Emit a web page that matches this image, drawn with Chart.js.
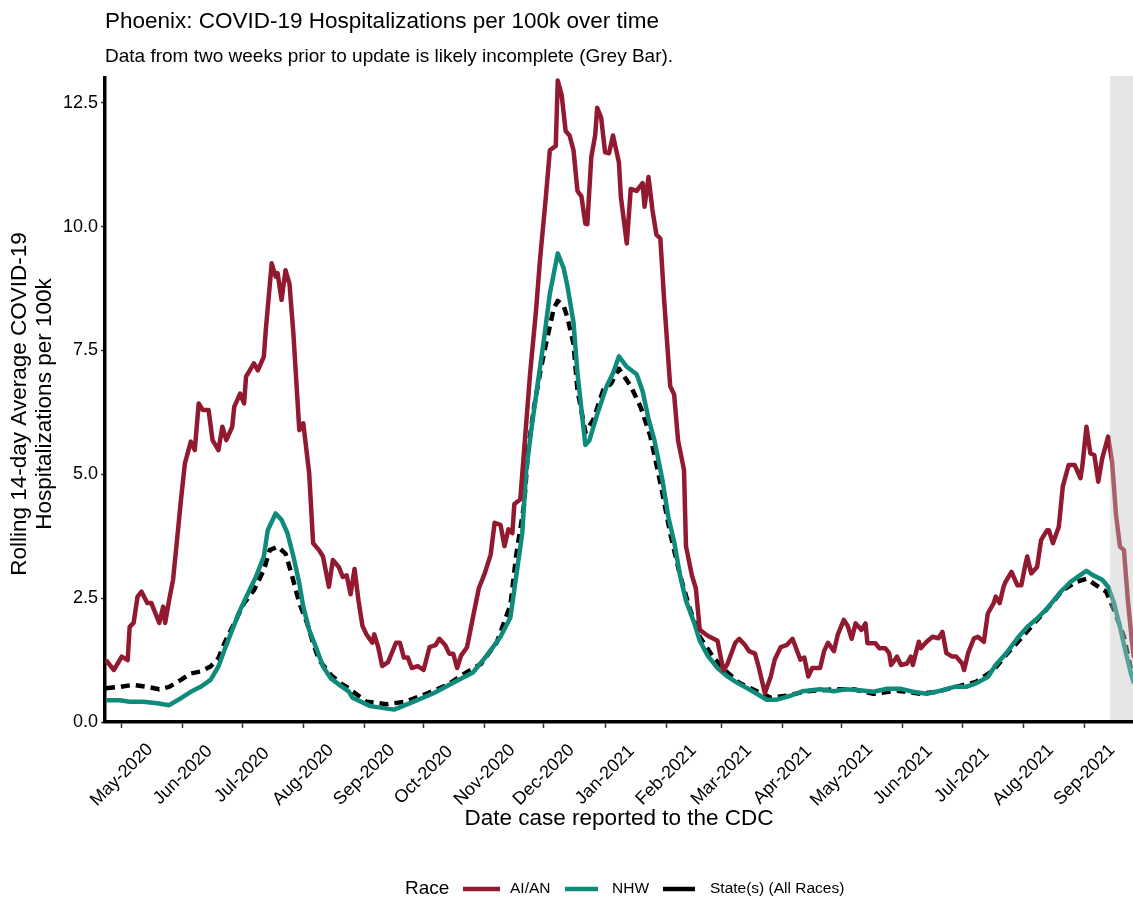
<!DOCTYPE html>
<html lang="en">
  <head>
    <meta charset="UTF-8" />
    <title>Phoenix: COVID-19 Hospitalizations per 100k over time</title>
    <script src="https://cdn.jsdelivr.net/npm/chart.js"></script>
    <style>
      body {
        margin: 0;
        background: #fff;
        font-family: "Liberation Sans", Arial, sans-serif;
      }
      #wrap {
        width: 1133px;
        height: 903px;
        position: relative;
      }
    </style>
  </head>
  <body>
    <div id="wrap"><canvas id="myChart"></canvas></div>
    <script>
      // x values are days counted from 1 May 2020
      const monthDays = [0, 31, 61, 92, 123, 153, 184, 214, 245, 276, 304, 335, 365, 396, 426, 457, 488];
      const monthLabels = [
        "May-2020", "Jun-2020", "Jul-2020", "Aug-2020", "Sep-2020", "Oct-2020",
        "Nov-2020", "Dec-2020", "Jan-2021", "Feb-2021", "Mar-2021", "Apr-2021",
        "May-2021", "Jun-2021", "Jul-2021", "Aug-2021", "Sep-2021",
      ];
      const yTicks = [0, 2.5, 5, 7.5, 10, 12.5];
      const greyStart = 501; // ~14 Sep 2021, incomplete data

      const aianDays = [
        -8, -4, 0, 3, 4, 6, 8, 10, 13, 15, 19, 21, 22, 24, 26, 28, 30, 32, 35, 37,
        39, 41, 44, 46, 49, 51, 53, 56, 57, 60, 62, 63, 67, 69, 72, 73, 76, 78, 79, 81,
        83, 85, 87, 90, 92, 95, 97, 100, 102, 105, 107, 110, 112, 114, 116, 118, 120, 122, 124, 127,
        128, 130, 132, 135, 139, 141, 143, 145, 147, 150, 153, 156, 159, 161, 164, 166, 168, 170, 172, 175,
        178, 181, 184, 187, 189, 192, 194, 196, 198, 199, 202, 204, 207, 210, 212, 215, 217, 220, 221, 223,
        225, 227, 229, 231, 233, 235, 236, 238, 240, 241, 243, 245, 247, 249, 252, 253, 256, 258, 261, 264,
        265, 267, 269, 271, 273, 275, 278, 280, 282, 285, 286, 289, 291, 293, 296, 298, 302, 303, 305, 307,
        311, 313, 316, 318, 321, 323, 326, 329, 331, 334, 337, 340, 342, 344, 346, 348, 350, 354, 356, 358,
        361, 363, 366, 368, 370, 372, 375, 377, 378, 382, 384, 387, 389, 390, 393, 395, 398, 400, 401, 404,
        405, 408, 411, 414, 416, 418, 421, 423, 426, 427, 429, 432, 434, 437, 439, 442, 443, 445, 447, 448,
        451, 454, 456, 458, 459, 461, 464, 466, 469, 470, 472, 475, 477, 480, 483, 486, 487, 489, 491, 493,
        495, 497, 500, 502, 504, 506, 508, 510, 512, 513,
      ];
      const aianVals = [
        1.25, 1.05, 1.32, 1.25, 1.92, 2.0, 2.53, 2.63, 2.4, 2.4, 2.0, 2.33, 2.0, 2.46, 2.87, 3.67, 4.48, 5.22, 5.66, 5.49,
        6.43, 6.3, 6.3, 5.69, 5.49, 5.96, 5.69, 5.96, 6.36, 6.63, 6.43, 6.97, 7.24, 7.1, 7.37, 7.91, 9.26, 8.99, 9.06, 8.52,
        9.12, 8.85, 7.84, 5.89, 6.03, 5.02, 3.61, 3.47, 3.34, 2.73, 3.27, 3.13, 2.93, 2.96, 2.58, 3.09, 2.45, 1.94, 1.77, 1.6,
        1.77, 1.51, 1.13, 1.21, 1.6, 1.6, 1.3, 1.3, 1.09, 1.13, 1.05, 1.51, 1.55, 1.68, 1.55, 1.38, 1.38, 1.09, 1.34, 1.51,
        2.11, 2.7, 3.0, 3.38, 4.02, 3.98, 3.55, 3.89, 3.81, 4.4, 4.49, 5.51, 7.04, 8.31, 9.33, 10.61, 11.54, 11.63, 12.95, 12.65,
        11.93, 11.84, 11.54, 10.72, 10.61, 10.06, 10.05, 11.4, 11.85, 12.4, 12.2, 11.5, 11.48, 11.84, 11.3, 10.6, 9.66, 10.76, 10.72, 10.88,
        10.4, 11.0, 10.34, 9.84, 9.76, 8.48, 6.78, 6.61, 5.68, 5.09, 3.55, 2.96, 2.7, 1.86, 1.77, 1.72, 1.64, 1.43, 1.04, 1.17,
        1.6, 1.68, 1.55, 1.43, 1.38, 1.09, 0.58, 0.92, 1.26, 1.51, 1.55, 1.68, 1.47, 1.26, 1.3, 0.92, 1.09, 1.09, 1.43, 1.6,
        1.43, 1.77, 2.06, 1.94, 1.68, 1.99, 1.86, 1.99, 1.59, 1.59, 1.49, 1.49, 1.39, 1.15, 1.32, 1.15, 1.18, 1.32, 1.15, 1.62,
        1.49, 1.62, 1.72, 1.69, 1.82, 1.39, 1.32, 1.32, 1.18, 1.05, 1.39, 1.69, 1.72, 1.62, 2.19, 2.4, 2.53, 2.4, 2.73, 2.83,
        3.03, 2.76, 2.76, 3.17, 3.34, 3.0, 3.13, 3.67, 3.87, 3.87, 3.61, 3.94, 4.75, 5.19, 5.19, 4.92, 5.19, 5.96, 5.42, 5.39,
        4.85, 5.32, 5.76, 5.25, 4.18, 3.54, 3.47, 2.46, 1.65, 1.3,
      ];

      const nhwDays = [
        -8, -1, 4, 11, 18, 24, 30, 35, 40, 45, 49, 52, 56, 60, 64, 68, 72, 74, 78, 81,
        84, 87, 90, 92, 95, 99, 102, 106, 111, 115, 117, 126, 138, 148, 158, 168, 178, 185, 192, 197,
        200, 203, 205, 208, 211, 214, 217, 221, 224, 226, 229, 231, 235, 237, 241, 246, 249, 252, 256, 261,
        264, 267, 270, 274, 277, 280, 283, 286, 290, 293, 297, 302, 307, 312, 318, 327, 332, 339, 345, 354,
        361, 367, 374, 381, 388, 395, 401, 408, 415, 422, 428, 433, 439, 443, 449, 454, 459, 464, 469, 476,
        481, 486, 489, 492, 497, 500, 503, 506, 509, 512, 513,
      ];
      const nhwVals = [
        0.44, 0.44, 0.41, 0.41, 0.38, 0.34, 0.48, 0.61, 0.71, 0.85, 1.12, 1.45, 1.86, 2.26, 2.6, 2.93, 3.34, 3.87, 4.21, 4.08,
        3.81, 3.34, 2.8, 2.33, 1.86, 1.45, 1.12, 0.88, 0.73, 0.62, 0.49, 0.32, 0.25, 0.41, 0.58, 0.79, 1.0, 1.34, 1.72, 2.11,
        2.96, 3.81, 5.08, 6.02, 6.87, 7.72, 8.65, 9.46, 9.16, 8.78, 8.06, 7.04, 5.59, 5.68, 6.21, 6.8, 7.04, 7.38, 7.17, 7.02,
        6.68, 6.12, 5.69, 4.9, 4.15, 3.64, 2.96, 2.45, 2.02, 1.64, 1.34, 1.09, 0.92, 0.79, 0.66, 0.45, 0.45, 0.53, 0.62, 0.66,
        0.62, 0.66, 0.64, 0.61, 0.67, 0.67, 0.61, 0.57, 0.63, 0.71, 0.71, 0.78, 0.91, 1.15, 1.42, 1.69, 1.92, 2.09, 2.29, 2.63,
        2.83, 2.97, 3.05, 2.97, 2.87, 2.73, 2.4, 1.92, 1.39, 0.91, 0.78,
      ];

      const stateDays = [
        -8, -1, 6, 13, 19, 24, 30, 35, 40, 45, 49, 52, 57, 62, 67, 72, 75, 79, 83, 86,
        90, 94, 97, 100, 106, 111, 114, 124, 134, 144, 155, 165, 173, 182, 190, 197, 200, 204, 206, 209,
        212, 215, 219, 221, 224, 226, 229, 231, 235, 239, 244, 248, 252, 258, 263, 268, 273, 278, 283, 288,
        293, 300, 307, 313, 322, 329, 337, 347, 361, 371, 381, 393, 405, 413, 423, 433, 442, 449, 455, 464,
        470, 477, 484, 489, 494, 499, 503, 508, 512, 513,
      ];
      const stateVals = [
        0.68, 0.71, 0.75, 0.71, 0.66, 0.71, 0.85, 0.98, 1.02, 1.12, 1.29, 1.59, 1.99, 2.4, 2.66, 3.07, 3.47, 3.54, 3.4, 3.0,
        2.4, 1.99, 1.59, 1.25, 0.95, 0.78, 0.71, 0.41, 0.36, 0.41, 0.58, 0.75, 0.96, 1.17, 1.6, 2.36, 3.38, 4.4, 5.51, 6.36,
        7.04, 7.63, 8.35, 8.5, 8.4, 8.15, 7.63, 6.7, 5.85, 6.1, 6.7, 6.83, 7.13, 6.78, 6.36, 5.76, 4.83, 3.81, 2.96, 2.28,
        1.72, 1.3, 1.0, 0.79, 0.62, 0.49, 0.53, 0.62, 0.66, 0.66, 0.57, 0.63, 0.57, 0.61, 0.71, 0.81, 1.05, 1.39, 1.65, 2.06,
        2.33, 2.66, 2.83, 2.89, 2.76, 2.63, 2.26, 1.72, 0.98, 0.85,
      ];

      const FONT = '"Liberation Sans", Arial, sans-serif';
      const RED = "#921a30";
      const TEAL = "#0f8b7b";

      function pts(days, vals) {
        return days.map((d, i) => ({ x: d, y: vals[i] }));
      }

      // titles, rotated month labels, grey bar and legend
      const decor = {
        id: "decor",
        afterDatasetsDraw(chart) {
          const ctx = chart.ctx;
          const a = chart.chartArea;
          const xs = chart.scales.x;
          const gx = xs.getPixelForValue(greyStart);
          ctx.save();
          ctx.fillStyle = "rgba(195,195,195,0.42)";
          ctx.fillRect(gx, a.top - 2, a.right - gx, a.bottom - a.top);
          ctx.restore();
        },
        afterDraw(chart) {
          const ctx = chart.ctx;
          const a = chart.chartArea;
          const xs = chart.scales.x;
          ctx.save();
          ctx.fillStyle = "#000";
          ctx.textBaseline = "alphabetic";
          ctx.textAlign = "left";
          ctx.font = "22.5px " + FONT;
          ctx.fillText("Phoenix: COVID-19 Hospitalizations per 100k over time", 105, 28);
          ctx.font = "19px " + FONT;
          ctx.fillText("Data from two weeks prior to update is likely incomplete (Grey Bar).", 105, 62);

          // month labels, centred under their ticks
          ctx.font = "18px " + FONT;
          ctx.textAlign = "center";
          ctx.textBaseline = "middle";
          monthDays.forEach((d, i) => {
            const px = xs.getPixelForValue(d);
            ctx.save();
            ctx.translate(px, 775);
            ctx.rotate(-Math.PI / 4);
            ctx.fillText(monthLabels[i], 0, 0);
            ctx.restore();
          });

          ctx.font = "22.5px " + FONT;
          ctx.fillText("Date case reported to the CDC", (a.left + a.right) / 2, 819);

          ctx.save();
          ctx.translate(20, (a.top + a.bottom) / 2 + 4);
          ctx.rotate(-Math.PI / 2);
          ctx.font = "22.5px " + FONT;
          ctx.fillText("Rolling 14-day Average COVID-19", 0, 0);
          ctx.fillText("Hospitalizations per 100k", 0, 25);
          ctx.restore();

          // legend
          const ly = 889;
          ctx.textAlign = "left";
          ctx.font = "19px " + FONT;
          ctx.fillText("Race", 405, ly);
          ctx.font = "15.5px " + FONT;
          const items = [
            [463, 500, RED, "AI/AN", 510],
            [565, 598, TEAL, "NHW", 612],
            [663, 695, "#000", "State(s) (All Races)", 710],
          ];
          items.forEach(([x0, x1, c, t, tx]) => {
            ctx.strokeStyle = c;
            ctx.lineWidth = 4.5;
            ctx.beginPath();
            ctx.moveTo(x0, ly);
            ctx.lineTo(x1, ly);
            ctx.stroke();
            ctx.fillText(t, tx, ly);
          });
          ctx.restore();
        },
      };

      const ctx = document.getElementById("myChart").getContext("2d");
      const myChart = new Chart(ctx, {
        type: "line",
        data: {
          datasets: [
            {
              label: "AI/AN",
              data: pts(aianDays, aianVals),
              borderColor: RED,
              borderWidth: 4.5,
            },
            {
              label: "NHW",
              data: pts(nhwDays, nhwVals),
              borderColor: TEAL,
              borderWidth: 4.5,
            },
            {
              label: "State(s) (All Races)",
              data: pts(stateDays, stateVals),
              borderColor: "#000",
              borderWidth: 4.5,
              borderDash: [9, 6],
            },
          ],
        },
        options: {
          responsive: true,
          maintainAspectRatio: false,
          animation: false,
          events: [],
          layout: { padding: { top: 78, right: 0, left: 0, bottom: 0 } },
          elements: {
            point: { radius: 0 },
            line: { tension: 0, borderJoinStyle: "round", borderCapStyle: "butt" },
          },
          plugins: {
            legend: { display: false },
            tooltip: { enabled: false },
          },
          scales: {
            x: {
              type: "linear",
              min: -8.5,
              max: 512.6,
              afterFit(scale) {
                scale.height = 181;
              },
              afterBuildTicks(scale) {
                scale.ticks = monthDays.map((v) => ({ value: v }));
              },
              ticks: { display: false },
              grid: {
                drawOnChartArea: false,
                tickLength: 6,
                tickWidth: 1.5,
                tickColor: "#333",
              },
              border: { color: "#000", width: 3.5 },
            },
            y: {
              min: 0,
              max: 13,
              afterFit(scale) {
                scale.width = 105;
              },
              afterBuildTicks(scale) {
                scale.ticks = yTicks.map((v) => ({ value: v }));
              },
              ticks: {
                color: "#000",
                padding: 3,
                font: { family: FONT, size: 18 },
                callback: (v) => v.toFixed(1),
              },
              grid: {
                drawOnChartArea: false,
                tickLength: 4,
                tickWidth: 1.5,
                tickColor: "#333",
              },
              border: { color: "#000", width: 3.5 },
            },
          },
        },
        plugins: [decor],
      });
    </script>
  </body>
</html>
